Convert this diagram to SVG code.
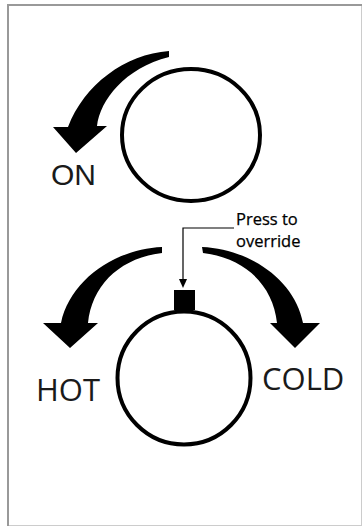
<svg xmlns="http://www.w3.org/2000/svg" width="363" height="528" viewBox="0 0 363 528">
<defs>
<style>
.knob{fill:none;stroke:#000;stroke-width:4}
.arrow{fill:#000;stroke:none}
.big{font-family:"Open Sans","Liberation Sans",sans-serif;font-size:31px;fill:#1a1a1a}
.small{font-family:"Open Sans","Liberation Sans",sans-serif;font-size:16.5px;fill:#000;stroke:#000;stroke-width:0.25}
.lead{fill:none;stroke:#000;stroke-width:1.2}
</style>
</defs>
<rect x="0" y="0" width="363" height="528" fill="#fff"/>
<g id="frame">
<rect x="8.5" y="5.5" width="353" height="520" fill="#fff" stroke="#ccc" stroke-width="1"/>
<line x1="7" y1="5" x2="362" y2="5" stroke="#999" stroke-width="2"/>
<line x1="8" y1="4" x2="8" y2="526" stroke="#999" stroke-width="2"/>
</g>
<g id="on-knob">
<ellipse class="knob" cx="191" cy="135" rx="69" ry="66"/>
</g>
<g id="on-label">
<text class="big" x="51" y="185" style="font-family:'Liberation Sans',Arial,sans-serif;font-size:30px">ON</text>
</g>
<g id="temp-knob">
<circle class="knob" cx="184" cy="378" r="66.5"/>
<rect x="174" y="290" width="21" height="20" fill="#000"/>
</g>
<g id="hot-label"><text class="big" x="36" y="401">HOT</text></g>
<g id="cold-label"><text class="big" x="262" y="390">COLD</text></g>
<g id="override-label">
<text class="small" x="236" y="225">Press to</text>
<text class="small" x="236" y="247">override</text>
</g>
<g id="connectors">
<path id="on-arrow" class="arrow" d="M169,51 C125,54 84,85 68,127 L53,127 L76,153 L107,126 L97,126 C100,100 125,68 169,57 Z"/>
<path id="hot-arrow" class="arrow" d="M162,247 C115,249 70,280 61,323 L43,323 L70,348 L98,323 L88,323 C92,285 120,258 162,253 Z"/>
<path id="cold-arrow" class="arrow" d="M202,247 C250,249 295,280 303,323 L320,323 L295,348 L270,323 L277,323 C273,285 245,258 203,253 Z"/>
<polyline class="lead" points="234,228 183,228 183,281"/>
<polygon points="179,279 187,279 183,288" fill="#000"/>
</g>
</svg>
